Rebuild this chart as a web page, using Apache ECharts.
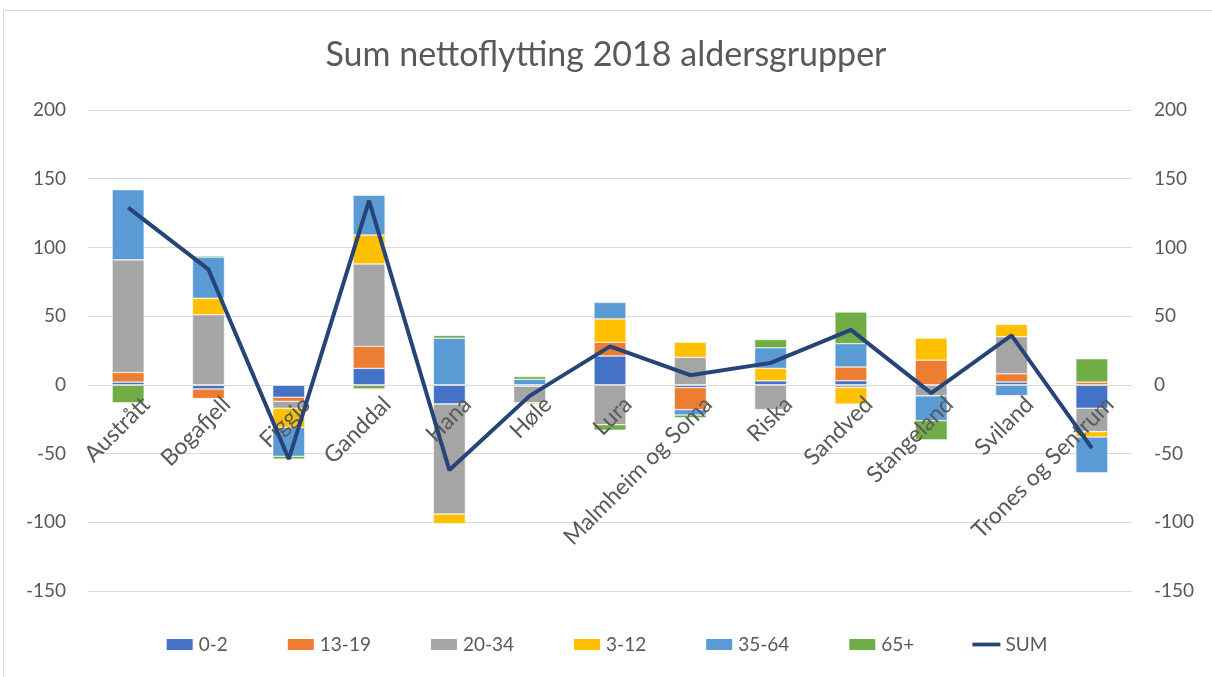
<!DOCTYPE html>
<html>
<head>
<meta charset="utf-8">
<script src="https://cdn.jsdelivr.net/npm/echarts@6/dist/echarts.min.js"></script>
<style>
  html, body { margin: 0; padding: 0; background: #fff; }
  #frame { position: absolute; left: 3px; top: 10px; width: 1212px; height: 670px; border: 1px solid #d9d9d9; box-sizing: border-box; }
  #chart { position: absolute; left: 0; top: 0; width: 1212px; height: 677px; }
</style>
</head>
<body>
<div id="frame"></div>
<div id="chart"></div>
<script>
  // omrader
  var categories = ['Austrått', 'Bogafjell', 'Figgjo', 'Ganddal', 'Hana', 'Høle', 'Lura',
    'Malmheim og Soma', 'Riska', 'Sandved', 'Stangeland', 'Sviland', 'Trones og Sentrum'];

  // aldersgrupper, lest av bildet
  var age0_2 = [2, -3, -9, 12, -14, -1, 21, -2, 3, 3, 0, 2, -17];
  var age13_19 = [7, -7, -3, 16, 0, 0, 10, -16, 0, 10, 18, 6, 2];
  var age20_34 = [82, 51, -5, 60, -80, -12, -29, 20, -18, -2, -8, 27, -17];
  var age3_12 = [0, 12, -14, 21, -7, -1, 17, 11, 9, -12, 16, 9, -4];
  var age35_64 = [51, 30, -21, 29, 34, 4, 12, -4, 15, 17, -18, -8, -26];
  var age65 = [-13, 1, -2, -3, 2, 2, -4, -2, 6, 23, -14, 0, 17];
  var sum = [129, 84, -54, 134, -62, -8, 28, 7, 16, 40, -6, 36, -46];

  var yTicks = { min: -150, max: 200, interval: 50 };

  var font = 'Lato, "Open Sans", sans-serif';
  var textColor = '#595959';

  var grid = { left: 88, right: 80, top: 110, bottom: 86 };
  // kategoriaksen skal ligge paa nullinja (som i Excel)
  var plotHeight = 677 - grid.top - grid.bottom;
  var zeroOffset = -plotHeight * (0 - yTicks.min) / (yTicks.max - yTicks.min);

  function barSeries(name, data, color) {
    return {
      name: name,
      type: 'bar',
      stack: 'alder',
      barWidth: 32,
      data: data,
      z: 2,
      itemStyle: { color: color, borderColor: '#ffffff', borderWidth: 0.5 }
    };
  }

  var myChart = echarts.init(document.getElementById('chart'));
  myChart.setOption({
    animation: false,
    title: {
      text: 'Sum nettoflytting 2018 aldersgrupper',
      left: 'center',
      top: 33,
      textStyle: { fontFamily: font, fontSize: 34, fontWeight: 'normal', color: textColor }
    },
    legend: {
      bottom: 18,
      left: 'center',
      itemWidth: 28,
      itemHeight: 13,
      itemGap: 58,
      textStyle: { fontFamily: font, fontSize: 19, color: textColor },
      data: [
        { name: '0-2', icon: 'rect' },
        { name: '13-19', icon: 'rect' },
        { name: '20-34', icon: 'rect' },
        { name: '3-12', icon: 'rect' },
        { name: '35-64', icon: 'rect' },
        { name: '65+', icon: 'rect' },
        { name: 'SUM', icon: 'path://M0,0 H30 V4 H0 Z' }
      ]
    },
    grid: { left: grid.left, right: grid.right, top: grid.top, bottom: grid.bottom, containLabel: false, outerBoundsMode: 'none' },
    xAxis: {
      type: 'category',
      data: categories,
      position: 'bottom',
      offset: zeroOffset,
      z: 3,
      axisLine: { onZero: false, lineStyle: { color: '#d9d9d9' } },
      axisTick: { show: false },
      axisLabel: {
        interval: 0,
        rotate: 45,
        margin: 9,
        align: 'right',
        verticalAlign: 'top',
        padding: [6, -8, 0, 0],
        hideOverlap: false,
        fontFamily: font,
        fontSize: 23,
        color: textColor
      }
    },
    yAxis: [
      {
        type: 'value',
        min: yTicks.min, max: yTicks.max, interval: yTicks.interval,
        axisLabel: { fontFamily: font, fontSize: 19, color: textColor, margin: 22 },
        splitLine: { lineStyle: { color: '#d9d9d9', width: 1 } },
        axisLine: { show: false },
        axisTick: { show: false }
      },
      {
        type: 'value',
        position: 'right',
        min: yTicks.min, max: yTicks.max, interval: yTicks.interval,
        axisLabel: { fontFamily: font, fontSize: 19, color: textColor, margin: 22 },
        splitLine: { show: false },
        axisLine: { show: false },
        axisTick: { show: false }
      }
    ],
    series: [
      barSeries('0-2', age0_2, '#4472C4'),
      barSeries('13-19', age13_19, '#ED7D31'),
      barSeries('20-34', age20_34, '#A5A5A5'),
      barSeries('3-12', age3_12, '#FFC000'),
      barSeries('35-64', age35_64, '#5B9BD5'),
      barSeries('65+', age65, '#70AD47'),
      {
        name: 'SUM',
        type: 'line',
        yAxisIndex: 1,
        data: sum,
        symbol: 'none',
        lineStyle: { color: '#264478', width: 4 },
        itemStyle: { color: '#264478' },
        z: 5
      }
    ]
  });
</script>
</body>
</html>
